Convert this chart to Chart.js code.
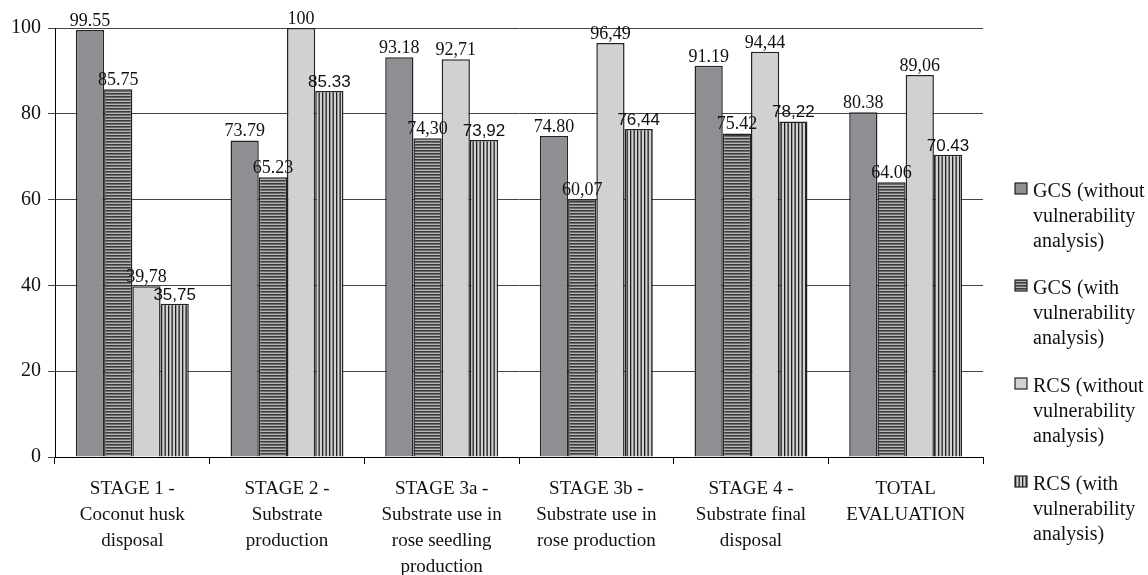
<!DOCTYPE html>
<html>
<head>
<meta charset="utf-8">
<script src="https://cdn.jsdelivr.net/npm/chart.js@4.4.1/dist/chart.umd.min.js"></script>
<style>
html, body { margin: 0; padding: 0; background: #fff; }
</style>
</head>
<body>
<canvas id="myChart" width="1148" height="575"></canvas>
<script>
/******************** Data ********************/

var stages = [
  ["STAGE 1 -", "Coconut husk", "disposal"],
  ["STAGE 2 -", "Substrate", "production"],
  ["STAGE 3a -", "Substrate use in", "rose seedling", "production"],
  ["STAGE 3b -", "Substrate use in", "rose production"],
  ["STAGE 4 -", "Substrate final", "disposal"],
  ["TOTAL", "EVALUATION"]
];

var seriesNames = [
  ["GCS (without", "vulnerability", "analysis)"],
  ["GCS (with", "vulnerability", "analysis)"],
  ["RCS (without", "vulnerability", "analysis)"],
  ["RCS (with", "vulnerability", "analysis)"]
];

var gcsWithout = [99.55, 73.79, 93.18, 74.80, 91.19, 80.38];
var gcsWith    = [85.75, 65.23, 74.30, 60.07, 75.42, 64.06];
var rcsWithout = [39.78, 100, 92.71, 96.49, 94.44, 89.06];
var rcsWith    = [35.75, 85.33, 73.92, 76.44, 78.22, 70.43];

// value labels as printed on the chart
var gcsWithoutText = ["99.55", "73.79", "93.18", "74.80", "91.19", "80.38"];
var gcsWithText    = ["85.75", "65.23", "74,30", "60,07", "75.42", "64.06"];
var rcsWithoutText = ["39,78", "100", "92,71", "96,49", "94,44", "89,06"];
var rcsWithText    = ["35,75", "85.33", "73,92", "76,44", "78,22", "70.43"];

var yTicks = [0, 20, 40, 60, 80, 100];

/******************** Patterns ********************/

var serif = '"Liberation Serif", "Times New Roman", serif';
var sans = '"Liberation Sans", Arial, sans-serif';

function hStripes() {
  var c = document.createElement("canvas");
  c.width = 6; c.height = 3;
  var x = c.getContext("2d");
  x.fillStyle = "#b4b4b4";
  x.fillRect(0, 0, 6, 3);
  x.fillStyle = "#3c3c3c";
  x.fillRect(0, 0, 6, 1.6);
  return x.createPattern(c, "repeat");
}

function vStripes() {
  var c = document.createElement("canvas");
  c.width = 7; c.height = 6;
  var x = c.getContext("2d");
  x.fillStyle = "#d2d2d2";
  x.fillRect(0, 0, 7, 6);
  x.fillStyle = "#1e1e1e";
  x.fillRect(0, 0, 1.3, 6);
  x.fillRect(3.5, 0, 1.3, 6);
  return x.createPattern(c, "repeat");
}

var fills = ["#8e8f93", hStripes(), "#d0d1d3", vStripes()];
var texts = [gcsWithoutText, gcsWithText, rcsWithoutText, rcsWithText];
var labelFonts = ["18px " + serif, "18px " + serif, "18px " + serif, "17px " + sans];

/******************** Plugins ********************/

var barLabels = {
  id: "barLabels",
  afterDatasetsDraw: function(chart) {
    var ctx = chart.ctx;
    chart.data.datasets.forEach(function(ds, i) {
      chart.getDatasetMeta(i).data.forEach(function(bar, j) {
        ctx.save();
        ctx.font = labelFonts[i];
        ctx.fillStyle = "#111";
        ctx.textAlign = "center";
        ctx.textBaseline = "alphabetic";
        ctx.fillText(texts[i][j], bar.x, bar.y - 4);
        ctx.restore();
      });
    });
  }
};

var sideLegend = {
  id: "sideLegend",
  afterDraw: function(chart) {
    var ctx = chart.ctx;
    var x = chart.chartArea.right + 32;
    var baselines = [197, 294, 392, 490];
    ctx.save();
    ctx.font = "20px " + serif;
    ctx.fillStyle = "#111";
    ctx.textBaseline = "alphabetic";
    seriesNames.forEach(function(lines, i) {
      var b = baselines[i];
      ctx.fillStyle = fills[i];
      ctx.fillRect(x, b - 14, 12, 11);
      ctx.strokeStyle = "#222";
      ctx.lineWidth = 1.2;
      ctx.strokeRect(x, b - 14, 12, 11);
      ctx.fillStyle = "#111";
      lines.forEach(function(t, k) {
        ctx.fillText(t, x + 18, b + k * 25);
      });
    });
    ctx.restore();
  }
};

/******************** Bar Chart ********************/

var seriesData = [gcsWithout, gcsWith, rcsWithout, rcsWith];

new Chart("myChart", {
  type: "bar",
  data: {
    labels: stages,
    datasets: seriesData.map(function(d, i) {
      return {
        label: seriesNames[i].join(" "),
        data: d,
        backgroundColor: fills[i],
        borderColor: "#222",
        borderWidth: 1.5,
        borderSkipped: "bottom",
        categoryPercentage: 0.73,
        barPercentage: 1.0
      };
    })
  },
  options: {
    responsive: false,
    animation: false,
    devicePixelRatio: 1,
    layout: { padding: { top: 28, right: 165, left: 0, bottom: 0 } },
    plugins: {
      legend: { display: false },
      tooltip: { enabled: false }
    },
    scales: {
      x: {
        afterFit: function(scale) { scale.height = 118; },
        grid: {
          offset: true,
          drawOnChartArea: false,
          drawTicks: true,
          tickLength: 7,
          color: "#000"
        },
        border: { display: true, color: "#000", width: 1 },
        ticks: {
          color: "#111",
          padding: 12,
          maxRotation: 0,
          autoSkip: false,
          font: { family: serif, size: 19, lineHeight: 1.37 }
        }
      },
      y: {
        min: 0,
        max: 100,
        afterFit: function(scale) { scale.width = 55; },
        afterBuildTicks: function(scale) {
          scale.ticks = yTicks.map(function(v) { return { value: v }; });
        },
        grid: {
          color: "#444",
          lineWidth: 1,
          drawTicks: true,
          tickLength: 7
        },
        border: { display: true, color: "#000", width: 1 },
        ticks: {
          color: "#111",
          padding: 7,
          font: { family: serif, size: 20 }
        }
      }
    }
  },
  plugins: [barLabels, sideLegend]
});
</script>
</body>
</html>
